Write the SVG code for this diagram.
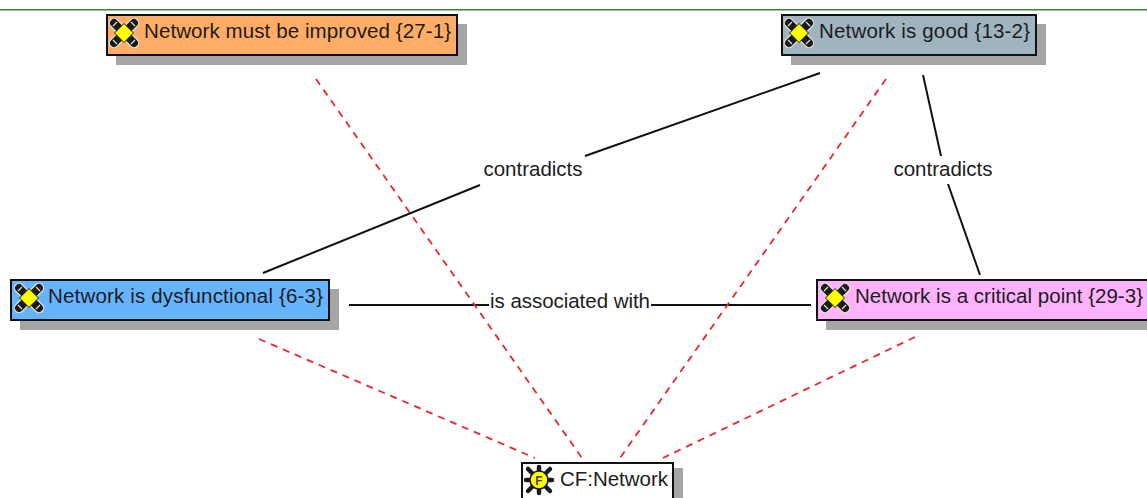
<svg xmlns="http://www.w3.org/2000/svg" xmlns:xlink="http://www.w3.org/1999/xlink" width="1147" height="498" viewBox="0 0 1147 498">
<style>
.box{stroke:#111;stroke-width:2}
.sh{fill:#a6a6a6}
.t{font-family:"Liberation Sans",Arial,sans-serif;font-size:20.500px;fill:#1c1c1c}
.l{font-family:"Liberation Sans",Arial,sans-serif;font-size:20.500px;fill:#1c1c1c;text-anchor:middle}
.rel{stroke:#111;stroke-width:2;fill:none}
.dash{stroke:#e8262c;stroke-width:1.8;stroke-dasharray:7 6;fill:none}
</style>
<defs>
<g id="icon">
<path d="M-10-10 10 10M10-10-10 10" stroke="#e2e0d4" stroke-width="10.500" stroke-linecap="round" fill="none"/>
<path d="M-10-10 10 10M10-10-10 10" stroke="#1a1a1a" stroke-width="8" stroke-linecap="round" fill="none"/>
<path d="M-11-7-7-11M7-11 11-7M11 7 7 11M-7 11-11 7" stroke="#e2e0d4" stroke-width="1.200" fill="none"/>
<path d="M0-9.500 9.500 0 0 9.500-9.500 0Z" fill="#ffff00" stroke="#1a1a1a" stroke-width="1"/>
</g>
<g id="icon-f">
<path d="M-11-11 11 11M11-11-11 11M0-13V13M-13 0H13" stroke="#1a1a1a" stroke-width="4.500" stroke-linecap="round" fill="none"/>
<circle r="9" fill="#ffff00" stroke="#1a1a1a" stroke-width="1.500"/>
<text x="0" y="4.500" text-anchor="middle" font-family="Liberation Sans, Arial, sans-serif" font-size="12" font-weight="bold" fill="#4a4200">F</text>
</g>
</defs>
<rect width="1147" height="498" fill="#fff"/>
<rect y="9" width="1147" height="1.500" fill="#3f7f3a"/>
<g id="connectors">
<path class="rel" d="M820 73 585 156M480 185 263 273"/>
<path class="rel" d="M923 75 941 156M948 184 980 275"/>
<path class="rel" d="M349 305H489M651 305H811"/>
<path class="dash" d="M316 79 582 458"/>
<path class="dash" d="M886 79 620 458"/>
<path class="dash" d="M259 339 535 458"/>
<path class="dash" d="M915 337 663 458"/>
<rect x="482" y="156" width="102" height="28" fill="#fff"/>
<rect x="892" y="156" width="102" height="28" fill="#fff"/>
<text class="l" x="533" y="176" textLength="99">contradicts</text>
<text class="l" x="943" y="176" textLength="99">contradicts</text>
<text class="l" x="570" y="308" textLength="160">is associated with</text>
</g>
<g id="n1">
<rect class="sh" x="116" y="24" width="351" height="41"/>
<rect class="box" x="107" y="15" width="350" height="40" fill="#ffad66"/>
<use xlink:href="#icon" x="124" y="33"/>
<text class="t" x="144" y="38" textLength="307">Network must be improved {27-1}</text>
</g>
<g id="n2">
<rect class="sh" x="791" y="24" width="255" height="41"/>
<rect class="box" x="782" y="15" width="254" height="40" fill="#9fb4bf"/>
<use xlink:href="#icon" x="799" y="33"/>
<text class="t" x="819" y="38" textLength="211">Network is good {13-2}</text>
</g>
<g id="n3">
<rect class="sh" x="20" y="289" width="319" height="41"/>
<rect class="box" x="11" y="280" width="318" height="40" fill="#66b3ff"/>
<use xlink:href="#icon" x="29" y="298"/>
<text class="t" x="48" y="303" textLength="275">Network is dysfunctional {6-3}</text>
</g>
<g id="n4">
<rect class="sh" x="826" y="289" width="331" height="41"/>
<rect class="box" x="817" y="280" width="340" height="40" fill="#ffb3ff"/>
<use xlink:href="#icon" x="835" y="298"/>
<text class="t" x="855" y="303" textLength="288">Network is a critical point {29-3}</text>
</g>
<g id="n5">
<rect class="sh" x="531" y="468" width="152" height="40"/>
<rect class="box" x="522" y="463" width="151" height="45" fill="#fff"/>
<use xlink:href="#icon-f" x="539" y="480"/>
<text class="t" x="560" y="486" textLength="108">CF:Network</text>
</g>
</svg>
